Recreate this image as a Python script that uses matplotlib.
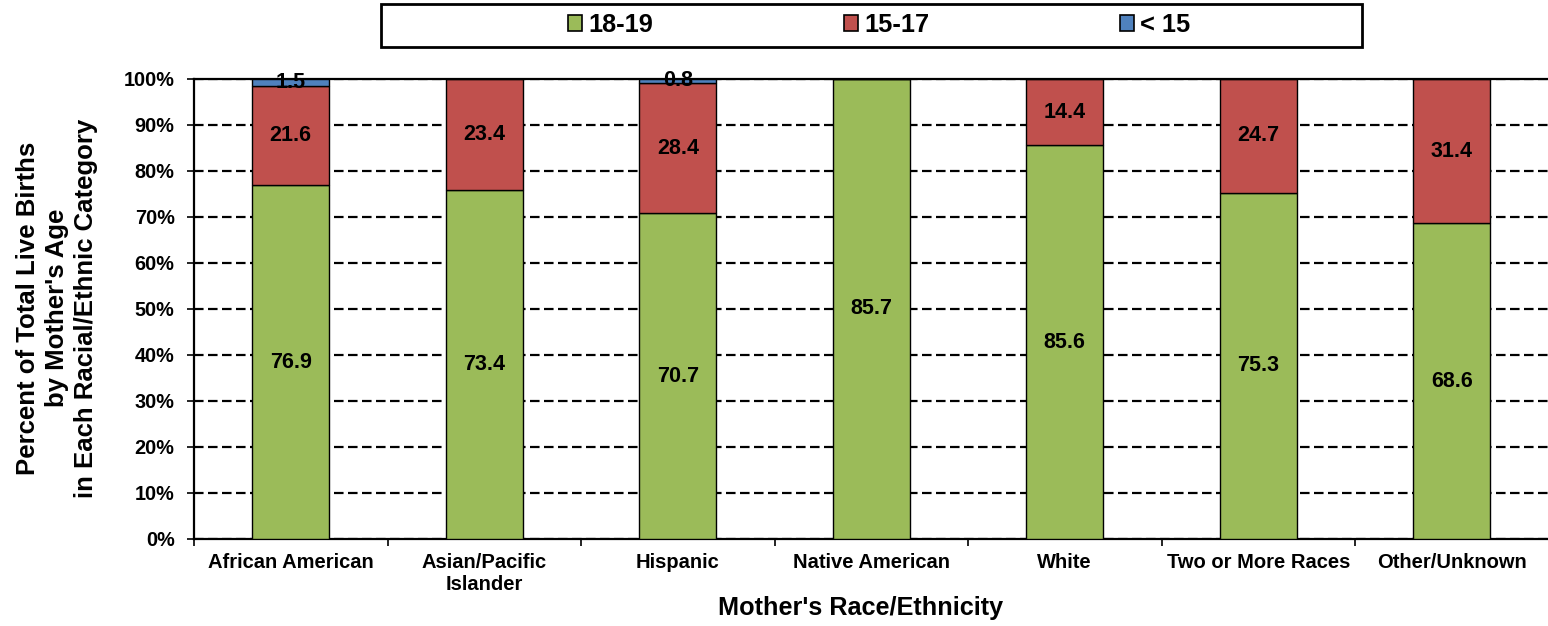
import matplotlib
matplotlib.use("Agg")
import matplotlib.pyplot as plt
from matplotlib.patches import Rectangle
import numpy as np

plt.rcParams['font.family'] = ['Liberation Sans', 'DejaVu Sans']
plt.rcParams['font.weight'] = 'bold'

categories = ["African American", "Asian/Pacific\nIslander", "Hispanic", "Native American",
              "White", "Two or More Races", "Other/Unknown"]
age_18_19 = [76.9, 73.4, 70.7, 85.7, 85.6, 75.3, 68.6]
age_15_17 = [21.6, 23.4, 28.4, 0.0, 14.4, 24.7, 31.4]
age_lt_15 = [1.5, 0.0, 0.8, 0.0, 0.0, 0.0, 0.0]

series = [("18-19", age_18_19, "#9BBB59"),
          ("15-17", age_15_17, "#C0504D"),
          ("< 15", age_lt_15, "#4F81BD")]

# 100% stacked: each bar is scaled to its own total, labels keep the raw values
raw = np.array([s[1] for s in series])
pct = raw / raw.sum(axis=0) * 100

W, H = 1548, 626
fig = plt.figure(figsize=(W / 100, H / 100), dpi=100)
ax = fig.add_axes([194 / W, 1 - 539 / H, 1354.5 / W, 460 / H])

x = np.arange(len(categories))
bottom = np.zeros(len(categories))
for i, (name, vals, color) in enumerate(series):
    ax.bar(x, pct[i], 0.4, bottom=bottom, color=color, edgecolor="black",
           linewidth=1.0, label=name, zorder=3)
    for j, v in enumerate(vals):
        if v > 0:
            ax.text(x[j], bottom[j] + pct[i][j] / 2, f"{v:.1f}", ha="center", va="center",
                    fontsize=15.5, fontweight="bold", zorder=4)
    bottom += pct[i]

ax.set_xlim(-0.5, len(categories) - 0.5)
ax.set_ylim(0, 100)
ax.set_yticks(np.arange(0, 101, 10))
ax.set_yticklabels([f"{t}%" for t in range(0, 101, 10)], fontsize=14.3, fontweight="bold")
ax.set_xticks(x)
ax.set_xticklabels(categories, fontsize=14.5, fontweight="bold")
ax.set_xticks(np.arange(-0.5, len(categories), 1), minor=True)
ax.tick_params(axis="x", which="major", length=0, pad=10)
ax.tick_params(axis="x", which="minor", length=5, width=1.2, direction="out")
ax.tick_params(axis="y", length=5, width=1.2, direction="out", pad=9)
ax.yaxis.grid(True, linestyle=(0, (4.3, 2)), color="black", linewidth=1.6, zorder=0)
ax.spines["right"].set_visible(False)
for side in ["top", "left", "bottom"]:
    ax.spines[side].set_linewidth(1.6)

fig.text(861 / W, 1 - 608 / H, "Mother's Race/Ethnicity", ha="center", va="center",
         fontsize=18.2, fontweight="bold")
fig.text(57 / W, 1 - 308 / H,
         "Percent of Total Live Births\nby Mother's Age\nin Each Racial/Ethnic Category",
         ha="center", va="center", rotation=90, multialignment="center",
         fontsize=18.5, fontweight="bold", linespacing=1.25)

# legend box drawn separately (fixed size, wider than its content)
fig.patches.append(Rectangle((381 / W, 1 - 47 / H), (1362 - 381) / W, 43 / H,
                             transform=fig.transFigure, fill=False, edgecolor="black",
                             linewidth=2.0))
leg = fig.legend(loc="center", bbox_to_anchor=(879 / W, 1 - 25 / H), ncol=3,
                 fontsize=18.3, frameon=False, handlelength=0.55, handleheight=0.55,
                 handletextpad=0.25, columnspacing=7.5)
for t in leg.get_texts():
    t.set_fontweight("bold")
for h in leg.legend_handles:
    h.set_linewidth(1.2)

fig.savefig("out.png", dpi=100)
